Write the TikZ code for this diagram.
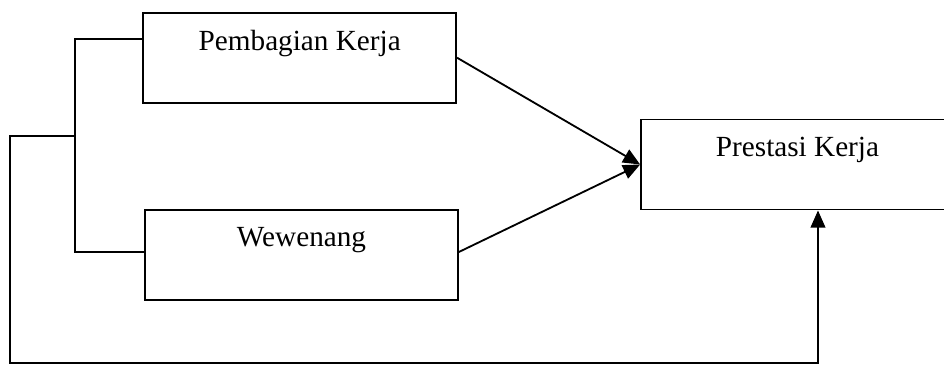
\documentclass[tikz,border=0pt]{standalone}
\usepackage{fontspec}
\setmainfont{Liberation Serif}
\usetikzlibrary{positioning,arrows.meta}

\begin{document}
\begin{tikzpicture}[x=0.01444cm, y=-0.01444cm, line width=0.75pt,
	box/.style = {draw, minimum width=128.5pt, minimum height=37pt, inner sep=0pt},
	boxtext/.style = {font=\fontsize{12}{14}\selectfont},
	arr/.style = {-{Triangle[length=7pt,width=6pt]}}]
	\clip (0,0) rectangle (944,365);
	% boxes
	\node[box] (pk) at (299.7,57.7) {};
	\node[box] (ww) at (301.5,255) {};
	\node[box] (pr) at (797.5,164.5) {};
	\node[boxtext, below=3.8pt of pk.north] (pkt) {Pembagian Kerja};
	\node[boxtext, below=3.8pt of ww.north] (wwt) {Wewenang};
	\node[boxtext, below=3.8pt of pr.north] (prt) {Prestasi Kerja};
	% connectors
	\coordinate (top) at (75,39);
	\coordinate (mid) at (75,136);
	\coordinate (bot) at (75,252);
	\coordinate (corner) at (10,363);
	\coordinate (foot) at (818,363);
	\draw[arr] (pk.east) -- (pr.west);
	\draw[arr] (ww.east |- bot) -- (pr.west);
	\draw (pk.west |- top) -- (top) -- (bot) -- (ww.west |- bot);
	\draw[arr] (mid) -- (mid -| corner) -- (corner) -- (foot) -- (foot |- pr.south);
\end{tikzpicture}
\end{document}
